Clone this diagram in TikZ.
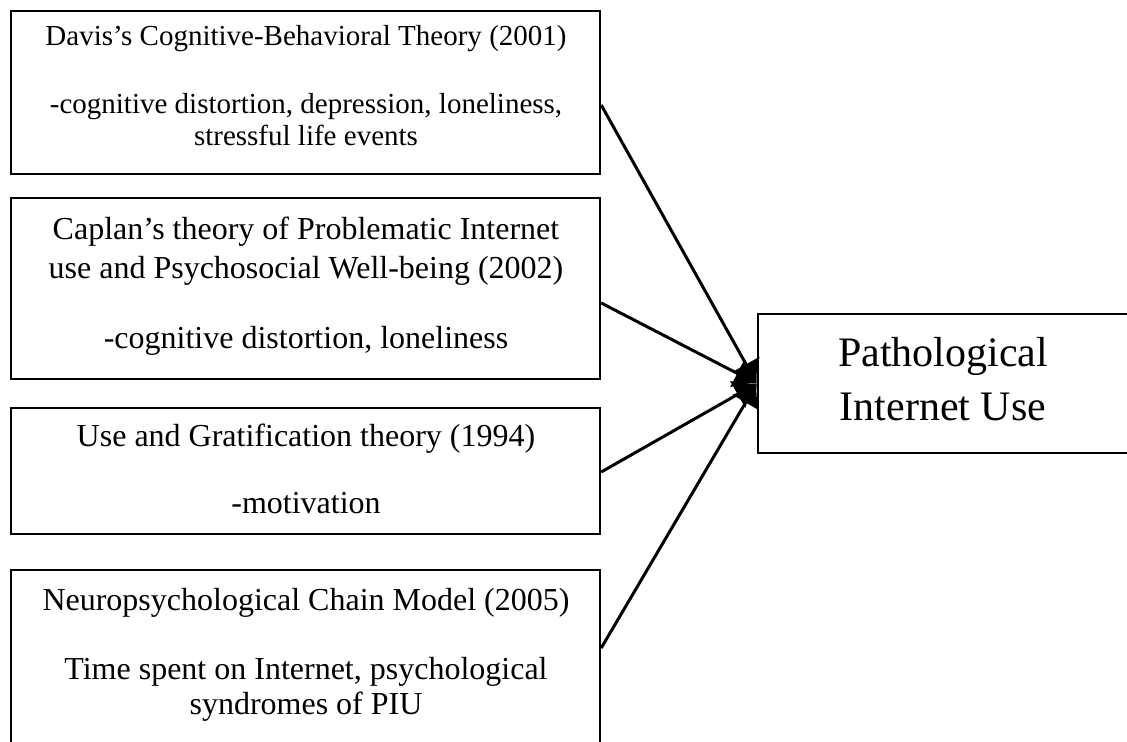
\documentclass[tikz,border=0pt]{standalone}
\usepackage{fontspec}
\setmainfont{Liberation Serif}
\usetikzlibrary{arrows.meta}
\begin{document}
\begin{tikzpicture}[x=0.5pt,y=-0.5pt,
  box/.style={draw, line width=1.2pt, rectangle, inner sep=0pt},
  smalltxt/.style={font=\fontsize{14.5}{17}\selectfont, anchor=base, inner sep=0pt},
  bigtxt/.style={font=\fontsize{16}{19}\selectfont, anchor=base, inner sep=0pt},
  hugetxt/.style={font=\fontsize{21}{25}\selectfont, anchor=base, inner sep=0pt},
  conn/.style={line width=1.5pt, -{Latex[length=11pt,width=16pt]}}]
\useasboundingbox (0,0) rectangle (1127,742);
\clip (0,0) rectangle (1127,742);
% boxes
\node[box, minimum width=294.5pt, minimum height=81.5pt] (b1) at (305.5,92.5) {};
\node[box, minimum width=294.5pt, minimum height=90.5pt] (b2) at (305.5,288.5) {};
\node[box, minimum width=294.5pt, minimum height=63pt] (b3) at (305.5,471) {};
\node[box, minimum width=294.5pt, minimum height=95pt] (b4) at (305.5,665) {};
\node[box, minimum width=191pt, minimum height=69.5pt] (rb) at (949,383.5) {};
% texts
\node[smalltxt] (t1a) at (306,46) {Davis's Cognitive-Behavioral Theory (2001)};
\node[smalltxt] (t1b) at (306,114) {-cognitive distortion, depression, loneliness,};
\node[smalltxt] (t1c) at (306,146) {stressful life events};
\node[bigtxt] (t2a) at (306,240) {Caplan's theory of Problematic Internet};
\node[bigtxt] (t2b) at (306,279) {use and Psychosocial Well-being (2002)};
\node[bigtxt] (t2c) at (306,349) {-cognitive distortion, loneliness};
\node[bigtxt] (t3a) at (306,446) {Use and Gratification theory (1994)};
\node[bigtxt] (t3b) at (306,513) {-motivation};
\node[bigtxt] (t4a) at (306,610) {Neuropsychological Chain Model (2005)};
\node[bigtxt] (t4b) at (306,679) {Time spent on Internet, psychological};
\node[bigtxt] (t4c) at (306,714) {syndromes of PIU};
\node[hugetxt] (r1) at (943,366) {Pathological};
\node[hugetxt] (r2) at (943,420) {Internet Use};
% connectors
\draw[conn] ([yshift=-6.25pt]b1.east) -- (rb.west);
\draw[conn] ([yshift=-7.25pt]b2.east) -- (rb.west);
\draw[conn] ([yshift=-0.5pt]b3.east) -- (rb.west);
\draw[conn] ([yshift=8.5pt]b4.east) -- (rb.west);
\end{tikzpicture}
\end{document}
